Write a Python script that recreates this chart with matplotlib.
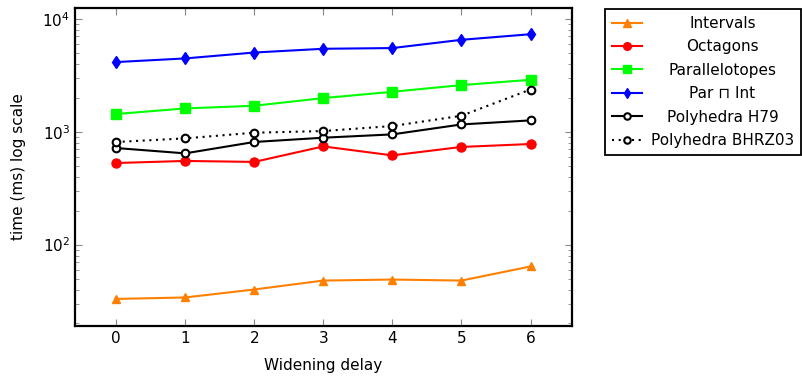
import matplotlib.pyplot as plt
import numpy as np
from matplotlib.offsetbox import VPacker

plt.rcParams['font.family'] = ['DejaVu Sans']

# widening delay values
delay = [0, 1, 2, 3, 4, 5, 6]

# times in ms
intervals = [33, 34, 40, 48, 49, 48, 64]
octagons = [528, 551, 540, 741, 617, 733, 778]
parallelotopes = [1435, 1608, 1698, 1985, 2258, 2588, 2884]
par_int = [4140, 4460, 5030, 5430, 5510, 6520, 7310]
poly_h79 = [717, 643, 811, 885, 947, 1160, 1260]
poly_bhrz03 = [811, 873, 980, 1014, 1123, 1385, 2366]

labels = ['Intervals', 'Octagons', 'Parallelotopes', 'Par \u2293 Int',
          'Polyhedra H79', 'Polyhedra BHRZ03']

fig, ax = plt.subplots(figsize=(8.03, 3.76), dpi=100)
fig.subplots_adjust(left=0.0934, right=0.7123, top=0.980, bottom=0.133)

lw = 1.5
ax.plot(delay, intervals, color='#ff8000', marker='^', ms=6, lw=lw, label=labels[0])
ax.plot(delay, octagons, color='#ff0000', marker='o', ms=6.5, lw=lw, label=labels[1])
ax.plot(delay, parallelotopes, color='#00ff00', marker='s', ms=6.5, lw=lw, label=labels[2])
ax.plot(delay, par_int, color='#0000ff', marker='d', ms=6.5, lw=lw, label=labels[3])
ax.plot(delay, poly_h79, color='black', marker='o', ms=5.5, mfc='white', mew=1.5,
        lw=lw, label=labels[4])
ax.plot(delay, poly_bhrz03, color='black', marker='o', ms=5.5, mfc='white', mew=1.5,
        lw=lw, ls=(0, (1, 2.2)), label=labels[5])

ax.set_yscale('log')
ax.set_ylim(19, 12600)
ax.set_xlim(-0.594, 6.6)
ax.set_xticks(delay)

ax.tick_params(which='both', direction='in', top=True, right=True,
               color='#888888', labelsize=11)
ax.tick_params(which='major', length=5)
ax.tick_params(which='minor', length=3)
ax.tick_params(axis='x', which='minor', bottom=False, top=False)
for s in ax.spines.values():
    s.set_linewidth(1.6)

ax.set_xlabel('Widening delay', fontsize=11, labelpad=9)
ax.set_ylabel('time (ms) log scale', fontsize=11, labelpad=12)

leg = fig.legend(loc='upper left', bbox_to_anchor=(0.7534, 0.976), borderaxespad=0,
                 fontsize=11, fancybox=False, framealpha=1, edgecolor='black',
                 handlelength=2.0, labelspacing=0.55, borderpad=0.45, handletextpad=0.55,
                 markerscale=0.85)
leg.get_frame().set_linewidth(1.3)

# centre the labels inside the legend column, like pgfplots does
fig.canvas.draw()
r = fig.canvas.get_renderer()
w = max(t.get_window_extent(r).width for t in leg.get_texts())
for col in leg._legend_handle_box.get_children():
    for row in col.get_children():
        kids = row.get_children()
        kids[1] = VPacker(children=[kids[1]], align='center', width=w, pad=0, sep=0)

fig.savefig('out.png', dpi=100)
